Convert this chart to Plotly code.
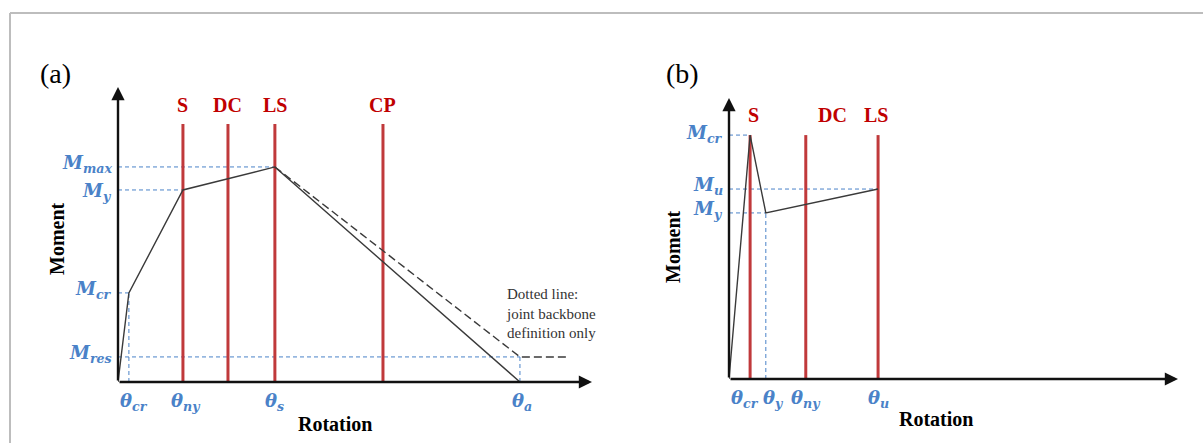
import plotly.graph_objects as go

W, H = 1203, 443

# ---------------- panel (a): joint / beam backbone (arbitrary units) ----------------
a_theta_names = ["θ<sub>cr</sub>", "θ<sub>ny</sub>", "θ<sub>s</sub>", "θ<sub>a</sub>"]
a_theta_vals = [0.23, 1.37, 3.31, 8.48]
a_moment_names = ["M<sub>max</sub>", "M<sub>y</sub>", "M<sub>cr</sub>", "M<sub>res</sub>"]
a_moment_vals = [7.29, 6.51, 3.02, 0.85]
a_backbone_x = [0, 0.23, 1.37, 3.31, 8.48]
a_backbone_y = [0, 3.02, 6.51, 7.29, 0]
a_joint_x = [3.31, 8.48, 9.47]
a_joint_y = [7.29, 0.85, 0.85]
a_limit_names = ["S", "DC", "LS", "CP"]
a_limit_vals = [1.37, 2.32, 3.31, 5.59]
a_limit_top = 8.75
# guides: (moment index -> theta index) horizontals, (theta index, moment index) verticals
a_h_guides = [(0, 2), (1, 1), (2, 0), (3, 3)]
a_v_guides = [(0, 2), (3, 3)]

# ---------------- panel (b) ----------------
b_theta_names = ["θ<sub>cr</sub>", "θ<sub>y</sub>", "θ<sub>ny</sub>", "θ<sub>u</sub>"]
b_theta_vals = [0.47, 0.82, 1.71, 3.32]
b_moment_names = ["M<sub>cr</sub>", "M<sub>u</sub>", "M<sub>y</sub>"]
b_moment_vals = [8.68, 6.76, 5.91]
b_backbone_x = [0, 0.47, 0.82, 3.32]
b_backbone_y = [0, 8.68, 5.91, 6.76]
b_limit_names = ["S", "DC", "LS"]
b_limit_vals = [0.47, 1.71, 3.32]
b_limit_top = 8.68
b_h_guides = [(0, 0), (1, 3), (2, 1)]
b_v_guides = [(1, 2)]

note_text = "Dotted line:<br>joint backbone<br>definition only"

# ---------------- styles ----------------
RED_LINE = "#c0393b"
RED_TXT = "#c00000"
BLUE = "#4a82c8"
CURVE = "#3a3a3a"
SERIF = "Liberation Serif"
MATH = "DejaVu Serif"
LABEL_LEVEL = 9.4
AX_MAX = 10

fig = go.Figure()


def guides(theta_vals, moment_vals, h_guides, v_guides):
    xs, ys = [], []
    for mi, ti in h_guides:
        xs += [0, theta_vals[ti], None]
        ys += [moment_vals[mi], moment_vals[mi], None]
    for ti, mi in v_guides:
        xs += [theta_vals[ti], theta_vals[ti], None]
        ys += [0, moment_vals[mi], None]
    return xs, ys


def limit_lines(vals, top):
    xs, ys = [], []
    for v in vals:
        xs += [v, v, None]
        ys += [0, top, None]
    return xs, ys


def add_panel(xa, ya, theta_vals, moment_vals, h_g, v_g, limits, top, bx, by):
    gx, gy = guides(theta_vals, moment_vals, h_g, v_g)
    fig.add_trace(go.Scatter(x=gx, y=gy, mode="lines", xaxis=xa, yaxis=ya,
                             line=dict(color=BLUE, width=1, dash="4px,3px"),
                             hoverinfo="skip", showlegend=False))
    lx, ly = limit_lines(limits, top)
    fig.add_trace(go.Scatter(x=lx, y=ly, mode="lines", xaxis=xa, yaxis=ya,
                             line=dict(color=RED_LINE, width=3),
                             hoverinfo="skip", showlegend=False))
    fig.add_trace(go.Scatter(x=bx, y=by, mode="lines", xaxis=xa, yaxis=ya,
                             line=dict(color=CURVE, width=1.4),
                             hoverinfo="skip", showlegend=False))


add_panel("x", "y", a_theta_vals, a_moment_vals, a_h_guides, a_v_guides,
          a_limit_vals, a_limit_top, a_backbone_x, a_backbone_y)
fig.add_trace(go.Scatter(x=a_joint_x, y=a_joint_y, mode="lines", xaxis="x", yaxis="y",
                         line=dict(color=CURVE, width=1.4, dash="8px,4px"),
                         hoverinfo="skip", showlegend=False))
add_panel("x2", "y2", b_theta_vals, b_moment_vals, b_h_guides, b_v_guides,
          b_limit_vals, b_limit_top, b_backbone_x, b_backbone_y)

ann = []


def axis_arrows(xr, yr):
    for (x, y) in [(AX_MAX, 0), (0, AX_MAX)]:
        ann.append(dict(x=x, y=y, ax=0, ay=0, xref=xr, yref=yr, axref=xr, ayref=yr,
                        text="", showarrow=True, arrowhead=2, arrowsize=1.1,
                        arrowwidth=2.4, arrowcolor="#111111"))


def math_font():
    return dict(family=MATH, size=18, color=BLUE, style="italic", weight="bold")


def x_labels(xr, yr, names, vals, shifts):
    for n, v, s in zip(names, vals, shifts):
        ann.append(dict(x=v, y=0, xref=xr, yref=yr, text=n, showarrow=False,
                        xanchor="center", yanchor="top", xshift=s, yshift=-6,
                        font=math_font()))


def y_labels(xr, yr, names, vals, shifts):
    for n, v, s in zip(names, vals, shifts):
        ann.append(dict(x=0, y=v, xref=xr, yref=yr, text=n, showarrow=False,
                        xanchor="right", yanchor="middle", xshift=-4, yshift=s,
                        font=math_font()))


def limit_labels(xr, yr, names, vals, shifts):
    for n, v, s in zip(names, vals, shifts):
        ann.append(dict(x=v, y=LABEL_LEVEL, xref=xr, yref=yr, text=n, showarrow=False,
                        xanchor="center", yanchor="middle", xshift=s,
                        font=dict(family=SERIF, size=20, color=RED_TXT, weight="bold")))


axis_arrows("x", "y")
axis_arrows("x2", "y2")
x_labels("x", "y", a_theta_names, a_theta_vals, [5, 3, 0, 2])
y_labels("x", "y", a_moment_names, a_moment_vals, [3, -2, 3, 3])
x_labels("x2", "y2", b_theta_names, b_theta_vals, [-5, 8, 0, 0])
y_labels("x2", "y2", b_moment_names, b_moment_vals, [1, 3, 3])
limit_labels("x", "y", a_limit_names, a_limit_vals, [0, 0, 0, 0])
limit_labels("x2", "y2", b_limit_names, b_limit_vals, [3, 27, -2])


def px_ann(text, x, y, size, bold=False, angle=0, family=SERIF, color="#000000", align="center"):
    ann.append(dict(x=x / W, y=1 - y / H, xref="paper", yref="paper", text=text,
                    showarrow=False, textangle=angle, align=align,
                    xanchor="center", yanchor="middle",
                    font=dict(family=family, size=size, color=color,
                              weight="bold" if bold else "normal")))


px_ann("(a)", 55, 74, 28)
px_ann("(b)", 682, 74, 28)
px_ann("Moment", 57, 239, 20, bold=True, angle=-90)
px_ann("Rotation", 335, 424, 20, bold=True)
px_ann("Moment", 673, 247, 20, bold=True, angle=-90)
px_ann("Rotation", 936, 419, 20, bold=True)
ann.append(dict(x=8.15, y=2.32, xref="x", yref="y", text=note_text,
                showarrow=False, xanchor="left", yanchor="middle", align="left",
                font=dict(family=SERIF, size=15, color="#333333")))

shapes = [
    dict(type="line", xref="paper", yref="paper", x0=10 / W, x1=1, y0=1 - 13 / H, y1=1 - 13 / H,
         line=dict(color="#bdbdbd", width=2)),
    dict(type="line", xref="paper", yref="paper", x0=10 / W, x1=10 / W, y0=0, y1=1 - 13 / H,
         line=dict(color="#bdbdbd", width=2)),
]

axis_common = dict(visible=False, range=[0, AX_MAX], fixedrange=True)
fig.update_layout(
    width=W, height=H, margin=dict(l=0, r=0, t=0, b=0),
    paper_bgcolor="white", plot_bgcolor="white",
    xaxis=dict(domain=[118 / W, 592 / W], anchor="y", **axis_common),
    yaxis=dict(domain=[1 - 382 / H, 1 - 87 / H], anchor="x", **axis_common),
    xaxis2=dict(domain=[729 / W, 1178 / W], anchor="y2", **axis_common),
    yaxis2=dict(domain=[1 - 379 / H, 1 - 98 / H], anchor="x2", **axis_common),
    annotations=ann, shapes=shapes, showlegend=False,
)

fig.write_html("out.html")
